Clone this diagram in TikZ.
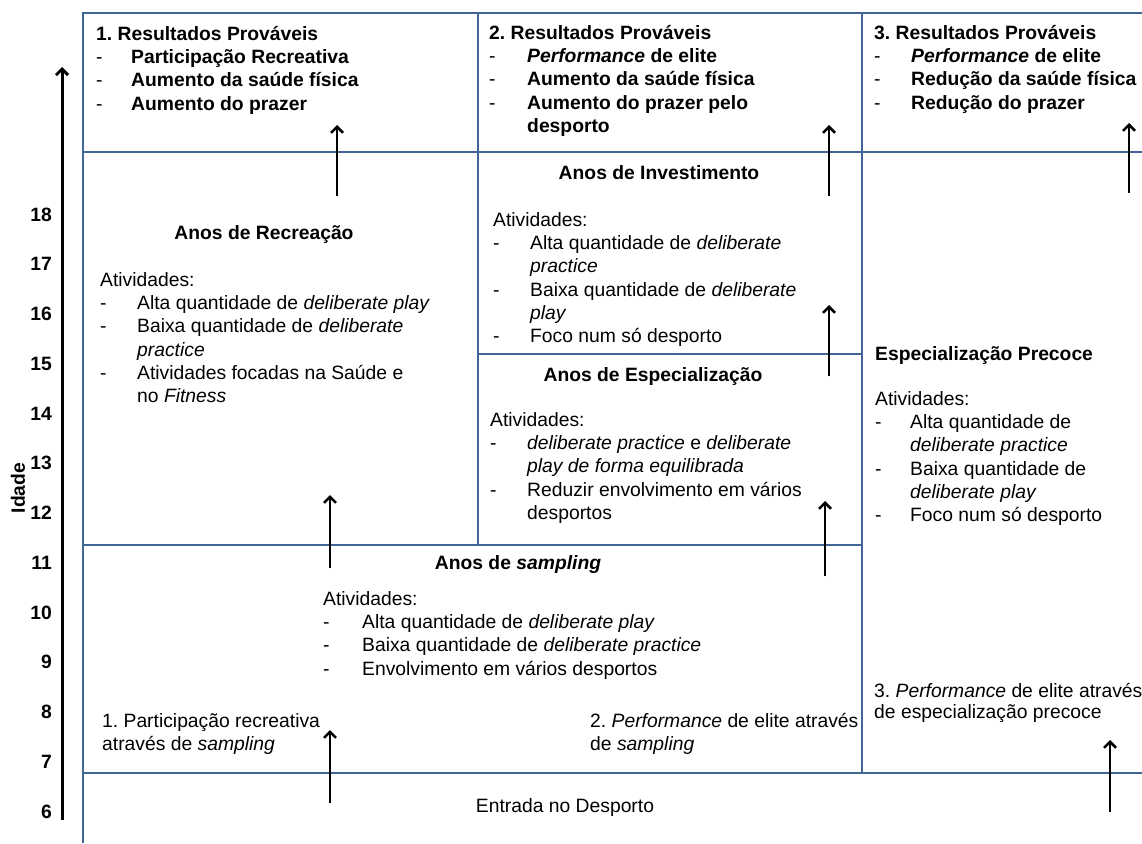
\documentclass[tikz,border=0pt]{standalone}
\usepackage{fontspec}
\setmainfont{Liberation Sans}
\usetikzlibrary{arrows.meta}
\definecolor{framec}{RGB}{65,101,150}
\newcommand{\dashitem}[2][35pt]{\makebox[#1][l]{\mdseries -}#2}
\newcommand{\contitem}[2][35pt]{\hspace*{#1}#2}
\newcommand{\fs}{\fontsize{19.3}{23.3}\selectfont\frenchspacing}
\newcommand{\firststrut}{\rule{0pt}{16pt}}
\begin{document}
\begin{tikzpicture}[x=1pt,y=-1pt,
  frameline/.style={draw=framec,line width=2.5pt},
  uparrow/.style={draw=black,line width=2.5pt,-{Straight Barb[length=6pt,width=12pt]}},
  blk/.style={anchor=north west,align=left,inner sep=0pt,font=\fs},
  bblk/.style={blk,font=\fs\bfseries},
  hdr/.style={anchor=base,inner sep=0pt,font=\fs\bfseries},
  plain/.style={anchor=base,inner sep=0pt,font=\fs},
  agelbl/.style={anchor=base east,inner sep=0pt,font=\fs\bfseries}]
\useasboundingbox (0,0) rectangle (1142,843);
% frame
\draw[frameline] (83,843) -- (83,13) -- (1142,13);
\draw[frameline] (83,152) -- (1142,152);
\draw[frameline] (83,545) -- (862,545);
\draw[frameline] (478,354) -- (862,354);
\draw[frameline] (83,773) -- (1142,773);
\draw[frameline] (478,13) -- (478,545);
\draw[frameline] (862,13) -- (862,773);
% age axis
\coordinate (axt) at (62,820);
\coordinate (axh) at (62,67);
\draw[uparrow,line width=3pt] (axt) -- (axh);
\foreach \a [count=\i from 0] in {18,17,16,15,14,13,12,11,10,9,8,7,6}
  \node[agelbl] (age\a) at (52,{221+49.75*\i}) {\a};
\node[rotate=90,inner sep=0pt,font=\fs\bfseries] (idade) at (18,488) {Idade};
% result boxes
\node[bblk] (res1) at (96,24) {\firststrut 1. Resultados Prováveis\\
  \dashitem{Participação Recreativa}\\
  \dashitem{Aumento da saúde física}\\
  \dashitem{Aumento do prazer}};
\node[bblk] (res2) at (489,23) {\firststrut 2. Resultados Prováveis\\
  \dashitem[38pt]{\textit{Performance} de elite}\\
  \dashitem[38pt]{Aumento da saúde física}\\
  \dashitem[38pt]{Aumento do prazer pelo}\\
  \contitem[38pt]{desporto}};
\node[bblk] (res3) at (874,23) {\firststrut 3. Resultados Prováveis\\
  \dashitem[37pt]{\textit{Performance} de elite}\\
  \dashitem[37pt]{Redução da saúde física}\\
  \dashitem[37pt]{Redução do prazer}};
% recreation
\node[hdr] (recT) at (264,239) {Anos de Recreação};
\node[blk] (recB) at (100,270) {\firststrut Atividades:\\
  \dashitem[37pt]{Alta quantidade de \textit{deliberate play}}\\
  \dashitem[37pt]{Baixa quantidade de \textit{deliberate}}\\
  \contitem[37pt]{\textit{practice}}\\
  \dashitem[37pt]{Atividades focadas na Saúde e}\\
  \contitem[37pt]{no \textit{Fitness}}};
% investment
\node[hdr] (invT) at (659,179) {Anos de Investimento};
\node[blk] (invB) at (493,210) {\firststrut Atividades:\\
  \dashitem[37pt]{Alta quantidade de \textit{deliberate}}\\
  \contitem[37pt]{\textit{practice}}\\
  \dashitem[37pt]{Baixa quantidade de \textit{deliberate}}\\
  \contitem[37pt]{\textit{play}}\\
  \dashitem[37pt]{Foco num só desporto}};
% specialization
\node[hdr] (speT) at (653,381) {Anos de Especialização};
\node[blk] (speB) at (490,410) {\firststrut Atividades:\\
  \dashitem[37pt]{\textit{deliberate practice} e \textit{deliberate}}\\
  \contitem[37pt]{\textit{play de forma equilibrada}}\\
  \dashitem[37pt]{Reduzir envolvimento em vários}\\
  \contitem[37pt]{desportos}};
% early specialization
\node[hdr,anchor=base west] (earT) at (875,360) {Especialização Precoce};
\node[blk] (earB) at (875,389) {\firststrut Atividades:\\
  \dashitem{Alta quantidade de}\\
  \contitem{\textit{deliberate practice}}\\
  \dashitem{Baixa quantidade de}\\
  \contitem{\textit{deliberate play}}\\
  \dashitem{Foco num só desporto}};
% sampling
\node[hdr] (samT) at (518,569) {Anos de \textit{sampling}};
\node[blk] (samB) at (323,589) {\firststrut Atividades:\\
  \dashitem[39pt]{Alta quantidade de \textit{deliberate play}}\\
  \dashitem[39pt]{Baixa quantidade de \textit{deliberate practice}}\\
  \dashitem[39pt]{Envolvimento em vários desportos}};
% pathways
\node[blk] (path1) at (102,711) {\firststrut 1. Participação recreativa\\através de \textit{sampling}};
\node[blk] (path2) at (590,711) {\firststrut 2. \textit{Performance} de elite através\\de \textit{sampling}};
\node[blk,font=\fontsize{19.3}{21}\selectfont\frenchspacing] (path3) at (874,681) {\firststrut 3. \textit{Performance} de elite através\\de especialização precoce};
\node[plain] (entry) at (565,812) {Entrada no Desporto};
% arrows
\coordinate (a1t) at (330,803); \coordinate (a1h) at (330,730);
\coordinate (a2t) at (330,568); \coordinate (a2h) at (330,495);
\coordinate (a3t) at (337,196); \coordinate (a3h) at (337,125);
\coordinate (a4t) at (825,576); \coordinate (a4h) at (825,501);
\coordinate (a5t) at (829,376); \coordinate (a5h) at (829,305);
\coordinate (a6t) at (829,196); \coordinate (a6h) at (829,125);
\coordinate (a7t) at (1129,193); \coordinate (a7h) at (1129,123);
\coordinate (a8t) at (1110,812); \coordinate (a8h) at (1110,740);
\foreach \k in {1,...,8} \draw[uparrow] (a\k t) -- (a\k h);
\end{tikzpicture}
\end{document}
